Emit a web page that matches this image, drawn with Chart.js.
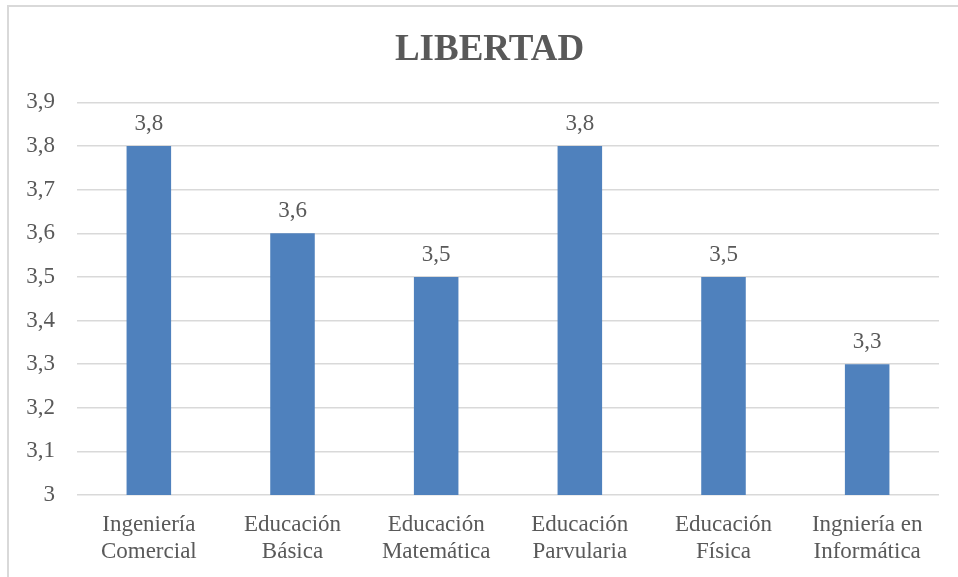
<!DOCTYPE html>
<html>
<head>
  <title>LIBERTAD</title>
  <script src="https://cdn.jsdelivr.net/npm/chart.js"></script>
  <style>
    body { margin: 0; background: #fff; overflow: hidden; }
    .frame { position: absolute; left: 7px; top: 5px; width: 1000px; height: 640px; border: 2px solid #d9d9d9; }
    .chart-box { position: absolute; left: 0; top: 0; width: 958px; height: 577px; }
  </style>
</head>
<body>
  <div class="frame"></div>
  <div class="chart-box"><canvas id="chart"></canvas></div>

  <script>
    // Data
    const categories = [
      ['Ingeniería', 'Comercial'],
      ['Educación', 'Básica'],
      ['Educación', 'Matemática'],
      ['Educación', 'Parvularia'],
      ['Educación', 'Física'],
      ['Ingniería en', 'Informática']
    ];
    const values = [3.8, 3.6, 3.5, 3.8, 3.5, 3.3];
    const yMin = 3, yMax = 3.9, yStep = 0.1;

    const fmt = v => String(Number(v.toFixed(1))).replace('.', ',');
    const serif = "'Liberation Serif', 'Times New Roman', serif";
    const textColor = '#595959';

    // Value labels above the bars
    const valueLabels = {
      id: 'valueLabels',
      afterLayout(chart) {
        // nudge the title to sit where the original has it
        const t = chart.titleBlock;
        if (t) { t.left += 15; t.right += 15; }
      },
      afterDatasetsDraw(chart) {
        const ctx = chart.ctx;
        ctx.save();
        ctx.font = `23px ${serif}`;
        ctx.fillStyle = textColor;
        ctx.textAlign = 'center';
        ctx.textBaseline = 'alphabetic';
        chart.getDatasetMeta(0).data.forEach((bar, i) => {
          ctx.fillText(fmt(values[i]), bar.x, bar.y - 16);
        });
        ctx.restore();
      }
    };

    new Chart(document.getElementById('chart').getContext('2d'), {
      type: 'bar',
      data: {
        labels: categories,
        datasets: [{
          data: values,
          backgroundColor: '#4F81BD',
          barPercentage: 0.31,
          categoryPercentage: 1
        }]
      },
      options: {
        responsive: true,
        maintainAspectRatio: false,
        animation: false,
        layout: { padding: { left: 10, right: 19, top: 0, bottom: 11 } },
        plugins: {
          legend: { display: false },
          tooltip: { enabled: false },
          title: {
            display: true,
            text: 'LIBERTAD',
            color: textColor,
            font: { family: serif, size: 37, weight: 'bold' },
            padding: { top: 28, bottom: 30 }
          }
        },
        scales: {
          x: {
            afterFit(scale) { scale.height = 71; },
            grid: { display: false, drawTicks: false },
            border: { display: false },
            ticks: { color: textColor, padding: 16, maxRotation: 0, autoSkip: false, font: { family: serif, size: 23 } }
          },
          y: {
            min: yMin,
            max: yMax,
            afterFit(scale) { scale.width = 67; },
            grid: { color: '#d9d9d9', lineWidth: 1.5, drawTicks: false },
            border: { display: false },
            ticks: {
              stepSize: yStep,
              color: textColor,
              padding: 22,
              font: { family: serif, size: 23 },
              callback: v => fmt(v)
            }
          }
        }
      },
      plugins: [valueLabels]
    });
  </script>
</body>
</html>
